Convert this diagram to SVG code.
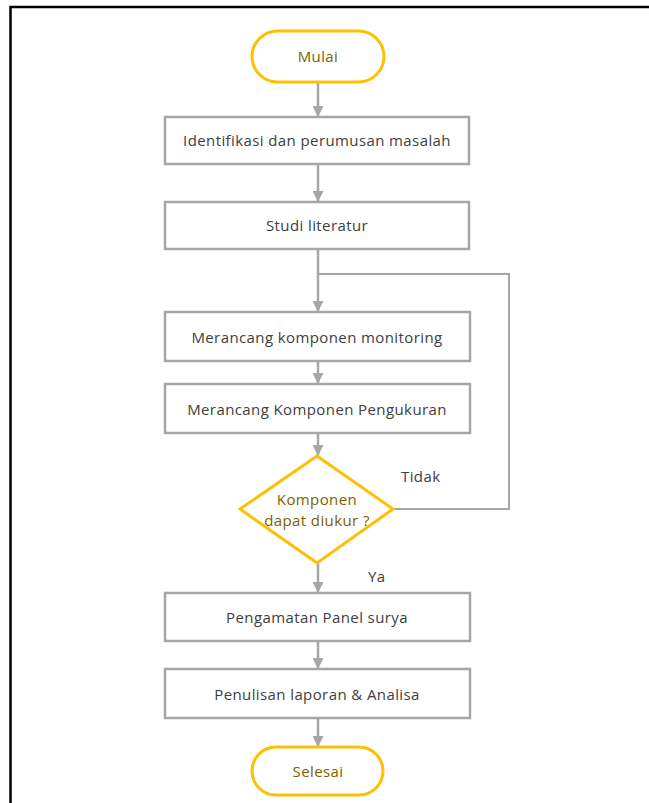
<svg xmlns="http://www.w3.org/2000/svg" width="649" height="803" viewBox="0 0 649 803">
<style>
.box{fill:#ffffff;stroke:#a6a6a6;stroke-width:2.5}
.term{fill:#ffffff;stroke:#ffc000;stroke-width:3}
.dec{fill:#ffffff;stroke:#ffc000;stroke-width:3}
.t{font-family:"Open Sans","Liberation Sans",sans-serif;font-size:15px;letter-spacing:0.4px;fill:#404040;text-anchor:middle;dominant-baseline:central}
.ty{font-family:"Open Sans","Liberation Sans",sans-serif;font-size:15px;letter-spacing:0.4px;fill:#7f6000;text-anchor:middle;dominant-baseline:central}
.lbl{font-family:"Open Sans","Liberation Sans",sans-serif;font-size:15px;letter-spacing:0.4px;fill:#404040}
.c{fill:none;stroke:#a6a6a6;stroke-width:2.5}
</style>
<defs>
<marker id="ah" viewBox="0 0 10 10" refX="10" refY="5" markerWidth="4.4" markerHeight="4.4" orient="auto" markerUnits="strokeWidth">
<path d="M0,0 L10,5 L0,10 z" fill="#a6a6a6"/>
</marker>
</defs>
<rect x="0" y="0" width="649" height="803" fill="#ffffff"/>
<path d="M10.5,803 V7 H649" fill="none" stroke="#000000" stroke-width="2.5"/>
<g id="connectors">
<line class="c" x1="318" y1="83" x2="318" y2="117" marker-end="url(#ah)"/>
<line class="c" x1="318" y1="164" x2="318" y2="202" marker-end="url(#ah)"/>
<line class="c" x1="318" y1="249" x2="318" y2="312" marker-end="url(#ah)"/>
<polyline class="c" points="393,509 509,509 509,274 318,274" style="stroke-width:2"/>
<line class="c" x1="318" y1="361" x2="318" y2="384" marker-end="url(#ah)"/>
<line class="c" x1="318" y1="433" x2="318" y2="456" marker-end="url(#ah)"/>
<line class="c" x1="318" y1="563" x2="318" y2="593" marker-end="url(#ah)"/>
<line class="c" x1="318" y1="641" x2="318" y2="669" marker-end="url(#ah)"/>
<line class="c" x1="318" y1="718" x2="318" y2="747" marker-end="url(#ah)"/>
<text class="lbl" x="401" y="482">Tidak</text>
<text class="lbl" x="368" y="582">Ya</text>
</g>
<g id="mulai">
<rect class="term" x="252" y="31" width="132" height="51" rx="25.5"/>
<text class="ty" x="318" y="56">Mulai</text>
</g>
<g id="identifikasi">
<rect class="box" x="165" y="117" width="304" height="47"/>
<text class="t" x="317" y="140">Identifikasi dan perumusan masalah</text>
</g>
<g id="studi">
<rect class="box" x="165" y="202" width="304" height="47"/>
<text class="t" x="317" y="225">Studi literatur</text>
</g>
<g id="monitoring">
<rect class="box" x="165" y="312" width="305" height="49"/>
<text class="t" x="317" y="337">Merancang komponen monitoring</text>
</g>
<g id="pengukuran">
<rect class="box" x="165" y="384" width="305" height="49"/>
<text class="t" x="317" y="409">Merancang Komponen Pengukuran</text>
</g>
<g id="keputusan">
<polygon class="dec" points="317,456 393,509 317,563 240,509"/>
<text class="ty" x="317" y="499">Komponen</text>
<text class="ty" x="317" y="520">dapat diukur ?</text>
</g>
<g id="pengamatan">
<rect class="box" x="165" y="593" width="305" height="48"/>
<text class="t" x="317" y="617">Pengamatan Panel surya</text>
</g>
<g id="penulisan">
<rect class="box" x="165" y="669" width="305" height="49"/>
<text class="t" x="317" y="694">Penulisan laporan &amp; Analisa</text>
</g>
<g id="selesai">
<rect class="term" x="252" y="747" width="131" height="48" rx="24"/>
<text class="ty" x="318" y="771">Selesai</text>
</g>
</svg>
